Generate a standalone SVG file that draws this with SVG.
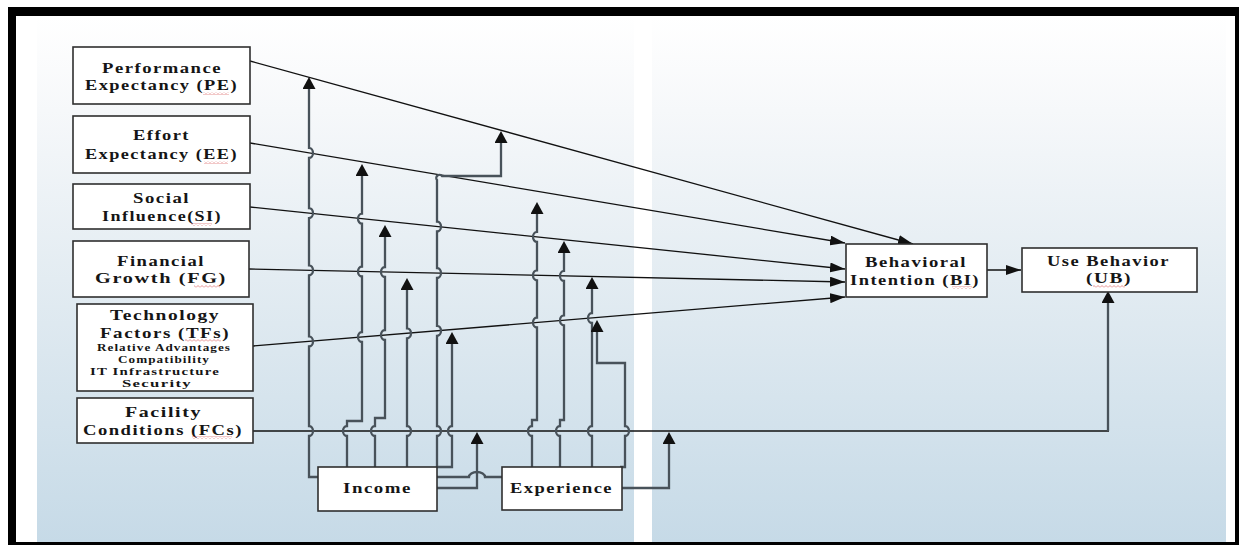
<svg xmlns="http://www.w3.org/2000/svg" width="1239" height="545" viewBox="0 0 1239 545">
  <defs>
    <linearGradient id="panelFill" gradientUnits="userSpaceOnUse" x1="0" y1="16" x2="0" y2="542">
      <stop offset="0" stop-color="#ffffff"/>
      <stop offset="0.18" stop-color="#f6f8fa"/>
      <stop offset="0.5" stop-color="#e3ecf2"/>
      <stop offset="1" stop-color="#c6dae7"/>
    </linearGradient>
    <pattern id="squiggle" width="4" height="3" patternUnits="userSpaceOnUse">
      <path d="M0,2.5 L2,0.5 L4,2.5" fill="none" stroke="#d23c3c" stroke-width="0.8"/>
    </pattern>
    <marker id="arrowUp" markerWidth="13" markerHeight="13" refX="7" refY="6.5" orient="auto" markerUnits="userSpaceOnUse">
      <path d="M0,0 L12,6.5 L0,13 z" fill="#111"/>
    </marker>
    <marker id="arrowIn" markerWidth="16" markerHeight="10" refX="15" refY="5" orient="auto" markerUnits="userSpaceOnUse">
      <path d="M0,0 L15,5 L0,10 z" fill="#111"/>
    </marker>
    <style>
      .box { fill: #ffffff; stroke: #2f2f2f; stroke-width: 1.6; }
      .lbl { font-family: "Liberation Serif", "Times New Roman", serif; font-weight: bold; font-size: 15px; letter-spacing: 1.2px; fill: #151515; }
      .sub { font-family: "Liberation Serif", "Times New Roman", serif; font-weight: bold; font-size: 10px; letter-spacing: 0.8px; fill: #151515; }
      .path { fill: none; stroke: #111; stroke-width: 1.3; }
      .mod { fill: none; stroke: #48525a; stroke-width: 2.3; }
      .spell { fill: url(#squiggle); opacity: 0.7; }
    </style>
  </defs>

  <!-- page and frame -->
  <rect x="0" y="0" width="1239" height="545" fill="#ffffff"/>
  <rect x="37" y="16" width="597" height="526" fill="url(#panelFill)"/>
  <rect x="652" y="16" width="574" height="526" fill="url(#panelFill)"/>
  <g fill="#000">
    <rect x="8" y="7" width="1231" height="9"/>
    <rect x="8" y="7" width="8" height="538"/>
    <rect x="1235" y="7" width="4" height="538"/>
    <rect x="8" y="542" width="1231" height="3"/>
  </g>

  <!-- connectors -->
  <g id="connectors">
    <!-- predictors into Behavioral Intention -->
    <path class="path" d="M250,61 L913,244" marker-end="url(#arrowIn)"/>
    <path class="path" d="M250,143 L845,243" marker-end="url(#arrowIn)"/>
    <path class="path" d="M250,207 L845,269" marker-end="url(#arrowIn)"/>
    <path class="path" d="M249,269 L845,282" marker-end="url(#arrowIn)"/>
    <path class="path" d="M253,346 L845,297" marker-end="url(#arrowIn)"/>
    <path class="path" d="M987,270 L1021,270" marker-end="url(#arrowIn)"/>
    <!-- facility conditions into Use Behavior -->
    <path class="path" d="M253,431 H1109"/>
    <path class="mod" d="M1108,431 V296" marker-end="url(#arrowUp)"/>

    <!-- Income moderators -->
    <path class="mod" d="M318,477 H309 V436 A4,5 0 0,0 309,426 V346.4 A4,5 0 0,0 309,336.4 V275.3 A4,5 0 0,0 309,265.3 V218.1 A4,5 0 0,0 309,208.1 V157.9 A4,5 0 0,0 309,147.9 V82" marker-end="url(#arrowUp)"/>
    <path class="mod" d="M347,467 V436 A4,5 0 0,1 347,426 V421 H362 V342 A4,5 0 0,1 362,332 V276.5 A4,5 0 0,1 362,266.5 V223.7 A4,5 0 0,1 362,213.7 V169" marker-end="url(#arrowUp)"/>
    <path class="mod" d="M375,467 V436 A4,5 0 0,1 375,426 V418 H385 V340 A4,5 0 0,1 385,330 V277 A4,5 0 0,1 385,267 V230" marker-end="url(#arrowUp)"/>
    <path class="mod" d="M407,467 V436 A4,5 0 0,0 407,426 V338.3 A4,5 0 0,0 407,328.3 V283" marker-end="url(#arrowUp)"/>
    <path class="mod" d="M437,467 V436 A4,5 0 0,0 437,426 V335.8 A4,5 0 0,0 437,325.8 V278 A4,5 0 0,0 437,268 V231.5 A4,5 0 0,0 437,221.5 V180 A3,3 0 0,1 442,176 H501 V136" marker-end="url(#arrowUp)"/>
    <path class="mod" d="M437,467 H452 V436 A4,5 0 0,1 452,426 V337" marker-end="url(#arrowUp)"/>
    <path class="mod" d="M437,477 H469 A8,5 0 0,1 485,477 H502"/>
    <path class="mod" d="M437,488 H477 V437" marker-end="url(#arrowUp)"/>

    <!-- Experience moderators -->
    <path class="mod" d="M532,467 V436 A4,5 0 0,1 532,426 V420 H537 V327.5 A4,5 0 0,1 537,317.5 V280.3 A4,5 0 0,1 537,270.3 V241.9 A4,5 0 0,1 537,231.9 V207" marker-end="url(#arrowUp)"/>
    <path class="mod" d="M560,467 V436 A4,5 0 0,1 560,426 V420 H564 V325.3 A4,5 0 0,1 564,315.3 V280.9 A4,5 0 0,1 564,270.9 V246" marker-end="url(#arrowUp)"/>
    <path class="mod" d="M592,467 V436 A4,5 0 0,1 592,426 V323 A4,5 0 0,1 592,313 V282" marker-end="url(#arrowUp)"/>
    <path class="mod" d="M620,467 H625 V436 A4,5 0 0,0 625,426 V363 H597 V325" marker-end="url(#arrowUp)"/>
    <path class="mod" d="M622,488 H669 V437" marker-end="url(#arrowUp)"/>
  </g>

  <!-- construct boxes -->
  <g id="node-pe">
    <rect class="box" x="73" y="47" width="177" height="57"/>
    <text class="lbl" x="102" y="73" textLength="120" lengthAdjust="spacingAndGlyphs">Performance</text>
    <text class="lbl" x="85" y="90" textLength="153" lengthAdjust="spacingAndGlyphs">Expectancy (PE)</text>
    <rect class="spell" x="203" y="92" width="26" height="3"/>
  </g>
  <g id="node-ee">
    <rect class="box" x="73" y="116" width="177" height="57"/>
    <text class="lbl" x="133" y="140" textLength="57" lengthAdjust="spacingAndGlyphs">Effort</text>
    <text class="lbl" x="85" y="159" textLength="153" lengthAdjust="spacingAndGlyphs">Expectancy (EE)</text>
    <rect class="spell" x="204" y="161" width="24" height="3"/>
  </g>
  <g id="node-si">
    <rect class="box" x="73" y="184" width="177" height="45"/>
    <text class="lbl" x="133" y="203" textLength="57" lengthAdjust="spacingAndGlyphs">Social</text>
    <text class="lbl" x="102" y="221" textLength="120" lengthAdjust="spacingAndGlyphs">Influence(SI)</text>
    <rect class="spell" x="191" y="223" width="21" height="3"/>
  </g>
  <g id="node-fg">
    <rect class="box" x="73" y="241" width="176" height="56"/>
    <text class="lbl" x="117" y="266" textLength="88" lengthAdjust="spacingAndGlyphs">Financial</text>
    <text class="lbl" x="95" y="283" textLength="132" lengthAdjust="spacingAndGlyphs">Growth (FG)</text>
    <rect class="spell" x="194" y="285" width="26" height="3"/>
  </g>
  <g id="node-tf">
    <rect class="box" x="77" y="304" width="176" height="87"/>
    <text class="lbl" x="110" y="320" textLength="110" lengthAdjust="spacingAndGlyphs">Technology</text>
    <text class="lbl" x="100" y="338" textLength="130" lengthAdjust="spacingAndGlyphs">Factors (TFs)</text>
    <rect class="spell" x="185" y="339" width="36" height="3"/>
    <text class="sub" x="97" y="351" textLength="134" lengthAdjust="spacingAndGlyphs">Relative Advantages</text>
    <text class="sub" x="118" y="363" textLength="92" lengthAdjust="spacingAndGlyphs">Compatibility</text>
    <text class="sub" x="90" y="375" textLength="130" lengthAdjust="spacingAndGlyphs">IT Infrastructure</text>
    <text class="sub" x="122" y="387" textLength="70" lengthAdjust="spacingAndGlyphs">Security</text>
  </g>
  <g id="node-fc">
    <rect class="box" x="77" y="398" width="176" height="45"/>
    <text class="lbl" x="125" y="417" textLength="77" lengthAdjust="spacingAndGlyphs">Facility</text>
    <text class="lbl" x="83" y="435" textLength="160" lengthAdjust="spacingAndGlyphs">Conditions (FCs)</text>
    <rect class="spell" x="192" y="436" width="40" height="3"/>
  </g>
  <g id="node-income">
    <rect class="box" x="318" y="467" width="119" height="44"/>
    <text class="lbl" x="343" y="493" textLength="69" lengthAdjust="spacingAndGlyphs">Income</text>
  </g>
  <g id="node-experience">
    <rect class="box" x="502" y="467" width="120" height="43"/>
    <text class="lbl" x="510" y="493" textLength="103" lengthAdjust="spacingAndGlyphs">Experience</text>
  </g>
  <g id="node-bi">
    <rect class="box" x="846" y="244" width="141" height="53"/>
    <text class="lbl" x="865" y="267" textLength="102" lengthAdjust="spacingAndGlyphs">Behavioral</text>
    <text class="lbl" x="850" y="285" textLength="130" lengthAdjust="spacingAndGlyphs">Intention (BI)</text>
    <rect class="spell" x="952" y="286" width="20" height="3"/>
  </g>
  <g id="node-ub">
    <rect class="box" x="1022" y="248" width="175" height="44"/>
    <text class="lbl" x="1047" y="266" textLength="123" lengthAdjust="spacingAndGlyphs">Use Behavior</text>
    <text class="lbl" x="1086" y="283" textLength="46" lengthAdjust="spacingAndGlyphs">(UB)</text>
    <rect class="spell" x="1093" y="285" width="32" height="3"/>
  </g>
</svg>
